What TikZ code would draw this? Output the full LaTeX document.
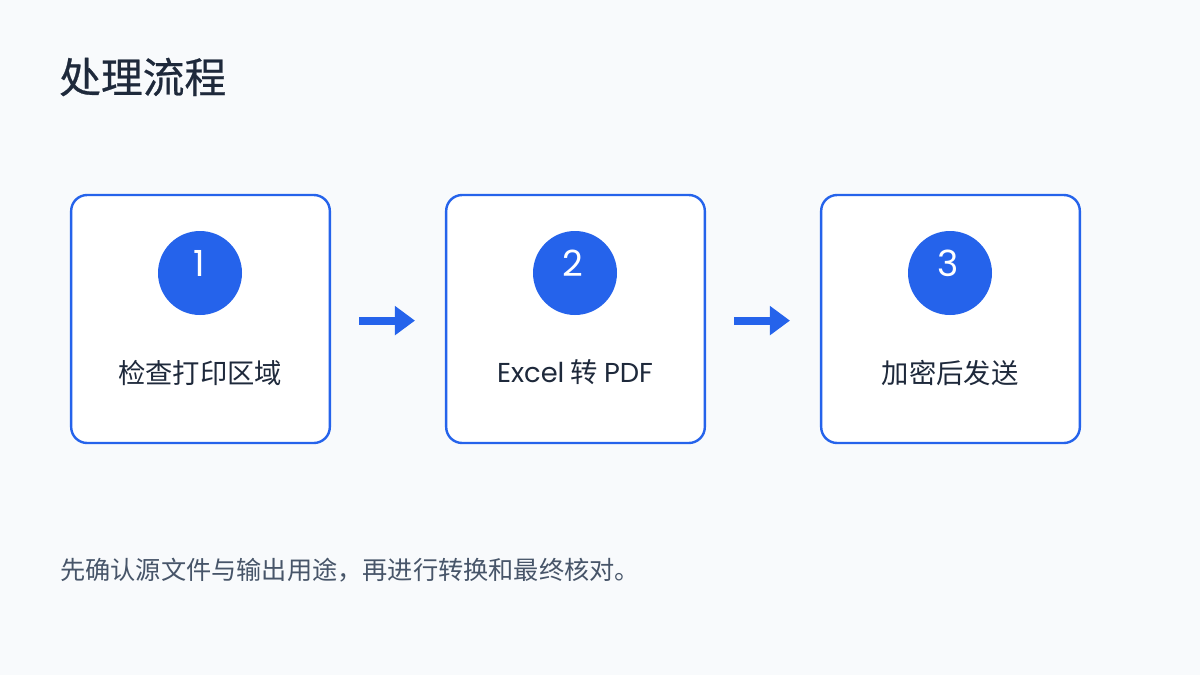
\documentclass[tikz,border=0pt]{standalone}
\usepackage{fontspec}
\setmainfont{Noto Sans CJK SC}
\newfontfamily\latfont{Poppins}
\newfontfamily\titlefont[FakeBold=0.6]{Noto Sans CJK SC}
\usetikzlibrary{positioning,arrows.meta}
\definecolor{flowblue}{HTML}{2563EB}
\definecolor{inkdark}{HTML}{1E293B}
\definecolor{inkgray}{HTML}{475569}
\definecolor{pagebg}{HTML}{F8FAFC}

\begin{document}
\begin{tikzpicture}[
  x=0.75pt, y=-0.75pt,
  >=Stealth,
  stepbox/.style={draw=flowblue, line width=1.8pt, fill=white, rounded corners=12pt, minimum width=194pt, minimum height=186pt, inner sep=0pt},
  stepdot/.style={circle, fill=flowblue, minimum size=63pt, inner sep=0pt},
  stepnum/.style={text=white, font=\latfont\fontsize{27}{32}\selectfont, inner sep=0pt},
  steplabel/.style={text=inkdark, font=\fontsize{20.5}{24}\selectfont, inner sep=0pt},
  flowarrow/.style={-{Triangle[length=15pt,width=21pt]}, draw=flowblue, line width=6pt, shorten <=21pt, shorten >=22.5pt}
]
  \fill[pagebg] (0,0) rectangle (1200,675);
  \node[anchor=west, inner sep=0pt, text=inkdark, font=\titlefont\fontsize{31.3}{36}\selectfont] (title) at (59,77) {处理流程};

  \node[stepbox] (b1) at (200.5,319) {};
  \node[stepbox] (b2) at (575.5,319) {};
  \node[stepbox] (b3) at (950.5,319) {};

  \node[stepdot] (d1) at (200,273) {};
  \node[stepdot] (d2) at (575,273) {};
  \node[stepdot] (d3) at (950,273) {};
  \node[stepnum] (n1) at (199,263) {1};
  \node[stepnum] (n2) at (573,263) {2};
  \node[stepnum] (n3) at (948,263) {3};

  \node[steplabel] (l1) at (200,373) {检查打印区域};
  \node[steplabel] (l2) at (575,372) {{\latfont Excel} 转 {\latfont PDF}};
  \node[steplabel] (l3) at (950,373) {加密后发送};

  \draw[flowarrow] ([yshift=-1.2pt]b1.east) -- ([yshift=-1.2pt]b2.west);
  \draw[flowarrow] ([yshift=-1.2pt]b2.east) -- ([yshift=-1.2pt]b3.west);

  \node[anchor=west, inner sep=0pt, text=inkgray, font=\fontsize{18.9}{22}\selectfont] (note) at (60,570) {先确认源文件与输出用途，再进行转换和最终核对。};
\end{tikzpicture}
\end{document}
